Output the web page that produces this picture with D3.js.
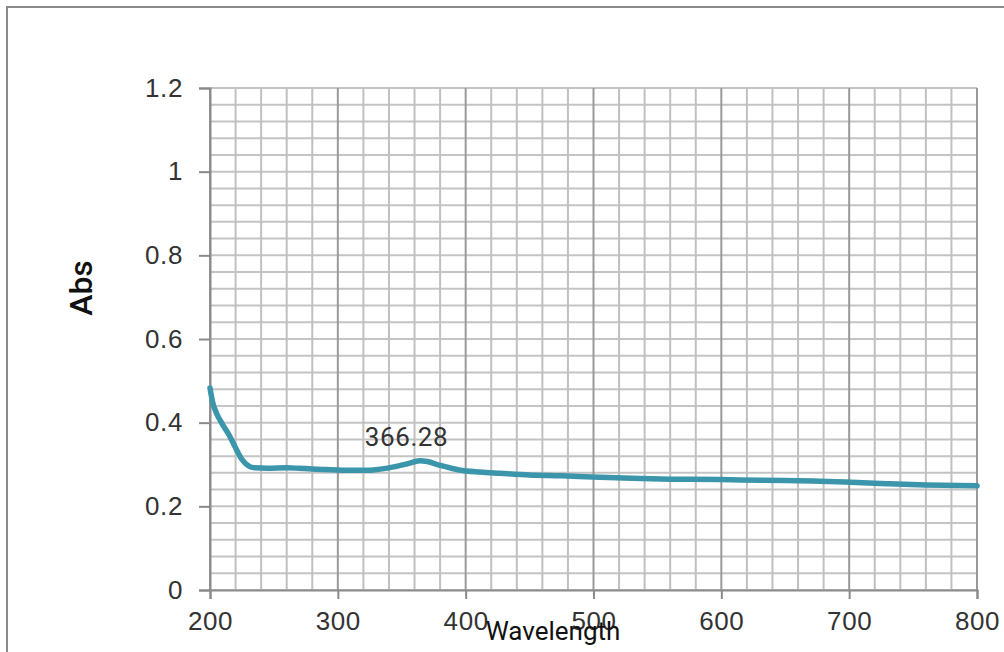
<!DOCTYPE html>
<html>
<head>
<meta charset="utf-8">
<script src="https://cdn.jsdelivr.net/npm/d3@7"></script>
<style>
  body { margin: 0; background: #fff; }
  svg { display: block; font-family: Roboto, sans-serif; }
</style>
</head>
<body>
<script>
// spectrum
const wavelengths = [200, 202, 205, 210, 215, 220, 225, 230, 235, 245, 260, 270, 290, 310, 322, 340, 355, 364, 370, 380, 395, 411, 427, 450, 475, 499, 530, 560, 598, 614, 650, 697, 730, 760, 800];
const absValues   = [0.483, 0.45, 0.423, 0.395, 0.37, 0.34, 0.312, 0.297, 0.292, 0.291, 0.292, 0.291, 0.288, 0.286, 0.286, 0.292, 0.302, 0.309, 0.307, 0.298, 0.287, 0.282, 0.279, 0.275, 0.273, 0.27, 0.267, 0.265, 0.264, 0.263, 0.262, 0.258, 0.254, 0.251, 0.249];
const xTicks = [200, 300, 400, 500, 600, 700, 800];
const yTicks = [0, 0.2, 0.4, 0.6, 0.8, 1, 1.2];
const peakLabel = "366.28";
const peakWl = 366.28;
const peakAbs = 0.309;

const W = 1004, H = 652;
const margin = { left: 210, right: 27, top: 88, bottom: 62 };

const svg = d3.select("body").append("svg")
    .attr("width", W)
    .attr("height", H);

// outer frame, clipped by the page on the right and bottom
svg.append("rect")
    .attr("x", 7).attr("y", 7)
    .attr("width", W + 20).attr("height", H + 20)
    .attr("fill", "none")
    .attr("stroke", "#8a8a8a")
    .attr("stroke-width", 2);

const x = d3.scaleLinear().domain([200, 800]).range([margin.left, W - margin.right]);
const y = d3.scaleLinear().domain([0, 1.2]).range([H - margin.bottom, margin.top]);

// minor grid
const grid = svg.append("g");
grid.selectAll(".hmin")
    .data(d3.range(0, 31).map(i => i * 0.04))
    .enter().append("line")
    .attr("x1", x(200)).attr("x2", x(800))
    .attr("y1", d => y(d)).attr("y2", d => y(d))
    .attr("stroke", "#c4c4c4")
    .attr("stroke-width", 2);

grid.selectAll(".vmin")
    .data(d3.range(0, 31).map(i => 200 + i * 20))
    .enter().append("line")
    .attr("x1", d => x(d)).attr("x2", d => x(d))
    .attr("y1", y(1.2)).attr("y2", y(0))
    .attr("stroke", d => d % 100 === 0 ? "#9a9a9a" : "#c0c0c0")
    .attr("stroke-width", 2);

// axes
const xAxis = d3.axisBottom(x).tickValues(xTicks).tickSize(9).tickPadding(13).tickFormat(d3.format("d"));
const gx = svg.append("g")
    .attr("transform", `translate(0,${y(0)})`)
    .call(xAxis);
gx.select(".domain").attr("stroke", "#8a8a8a").attr("stroke-width", 2);
gx.selectAll(".tick line").attr("stroke", "#8a8a8a").attr("stroke-width", 2);
gx.selectAll(".tick text").attr("fill", "#333").style("font-size", "26px").style("letter-spacing", "0.6px");

const yAxis = d3.axisLeft(y).tickValues(yTicks).tickSize(11).tickPadding(16).tickFormat(d => d === 0 || d === 1 ? d3.format("d")(d) : d3.format(".1f")(d));
const gy = svg.append("g")
    .attr("transform", `translate(${x(200)},0)`)
    .call(yAxis);
gy.select(".domain").attr("stroke", "#8a8a8a").attr("stroke-width", 2);
gy.selectAll(".tick line").attr("stroke", "#8a8a8a").attr("stroke-width", 2);
gy.selectAll(".tick text").attr("fill", "#333").style("font-size", "26px").style("letter-spacing", "0.6px");

// spectrum line
const line = d3.line()
    .x((d, i) => x(wavelengths[i]))
    .y(d => y(d))
    .curve(d3.curveMonotoneX);

svg.append("path")
    .datum(absValues)
    .attr("d", line)
    .attr("fill", "none")
    .attr("stroke", "#3b96ab")
    .attr("stroke-width", 5.5)
    .attr("stroke-linejoin", "round")
    .attr("stroke-linecap", "round");

// peak label
svg.append("text")
    .attr("x", x(peakWl) - 16)
    .attr("y", y(peakAbs) - 15)
    .attr("text-anchor", "middle")
    .attr("fill", "#333")
    .style("font-size", "26px")
    .style("letter-spacing", "0.6px")
    .text(peakLabel);

// axis titles
svg.append("text")
    .attr("transform", "translate(92,288) rotate(-90)")
    .attr("text-anchor", "middle")
    .attr("fill", "#111")
    .style("font-size", "32px")
    .style("font-weight", 500)
    .text("Abs");

svg.append("text")
    .attr("x", 553)
    .attr("y", 640)
    .attr("text-anchor", "middle")
    .attr("fill", "#111")
    .style("font-size", "26px")
    .text("Wavelength");
</script>
</body>
</html>
